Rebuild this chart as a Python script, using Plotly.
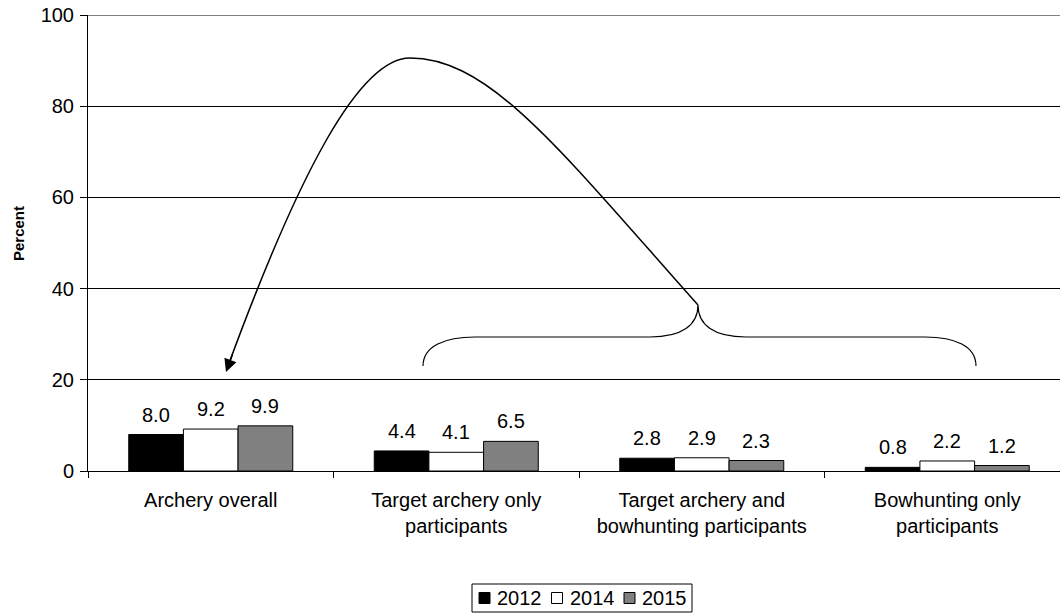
import plotly.graph_objects as go

categories = ["Archery overall",
              "Target archery only<br>participants",
              "Target archery and<br>bowhunting participants",
              "Bowhunting only<br>participants"]
years = ["2012", "2014", "2015"]
values_2012 = [8.0, 4.4, 2.8, 0.8]
values_2014 = [9.2, 4.1, 2.9, 2.2]
values_2015 = [9.9, 6.5, 2.3, 1.2]
y_ticks = [0, 20, 40, 60, 80, 100]

series = [values_2012, values_2014, values_2015]
colors = ["#000000", "#FFFFFF", "#808080"]
FONT = "Liberation Sans, Arial, sans-serif"
BARGAP = 0.332

# plot area in pixels (for decorative drawing)
PL, PR, PT, PB = 88, 1060, 15, 471
def px(x):
    return (x - PL) / (PR - PL)
def py(y):
    return (PB - y) / (PB - PT)

fig = go.Figure()
for name, vals, col in zip(years, series, colors):
    fig.add_trace(go.Bar(
        x=categories, y=vals, name=name, showlegend=False,
        marker=dict(color=col, line=dict(color="#000000", width=1)),
    ))

annotations = []
shapes = []
n = len(series)
bw = (1 - BARGAP) / n
for i, vals in enumerate(series):
    for j, v in enumerate(vals):
        annotations.append(dict(
            x=j + (i - (n - 1) / 2) * bw, y=v, xref="x", yref="y",
            text=f"{v:.1f}", showarrow=False, yanchor="bottom",
            yshift=7, font=dict(size=20, color="#000000", family=FONT)))

# y-axis title
annotations.append(dict(
    x=px(18), y=py(234), xref="paper", yref="paper", text="<b>Percent</b>",
    textangle=-90, showarrow=False, xanchor="center", yanchor="middle",
    font=dict(size=15, family=FONT, color="#000000")))

# legend (boxed, compact)
LEG_L, LEG_R, LEG_T, LEG_B = 472, 692, 584, 612
shapes.append(dict(type="rect", xref="paper", yref="paper",
                   x0=px(LEG_L), x1=px(LEG_R), y0=py(LEG_B), y1=py(LEG_T),
                   line=dict(color="#000000", width=1), fillcolor="#FFFFFF"))
LEG_CY = (LEG_T + LEG_B) / 2
for i, (name, col) in enumerate(zip(years, colors)):
    sx = 479 + i * 72.5
    shapes.append(dict(type="rect", xref="paper", yref="paper",
                       x0=px(sx), x1=px(sx + 11),
                       y0=py(LEG_CY + 5.5), y1=py(LEG_CY - 5.5),
                       line=dict(color="#000000", width=1), fillcolor=col))
    annotations.append(dict(
        x=px(sx + 16), y=py(LEG_CY), xref="paper", yref="paper", text=name,
        showarrow=False, xanchor="left", yanchor="middle",
        font=dict(size=20, family=FONT, color="#000000")))

# arrowhead at end of the curved arrow
annotations.append(dict(
    x=px(226), y=py(372), xref="paper", yref="paper",
    ax=7, ay=-19, axref="pixel", ayref="pixel",
    text="", showarrow=True, arrowhead=2, arrowsize=1.7, arrowwidth=1.5,
    arrowcolor="#000000", standoff=0))

def P(x, y):
    return f"{px(x):.5f},{py(y):.5f}"

bracket = (f"M {P(423,366)} C {P(423,346)} {P(445,337)} {P(475,337)} "
           f"L {P(650,337)} C {P(682,337)} {P(698,325)} {P(698,305)} "
           f"C {P(698,325)} {P(714,337)} {P(746,337)} "
           f"L {P(925,337)} C {P(955,337)} {P(976,346)} {P(976,366)}")
curve = (f"M {P(698,305)} C {P(560,150)} {P(490,58)} {P(410,58)} "
         f"C {P(360,58)} {P(300,170)} {P(228,366)}")

shapes += [
    dict(type="line", xref="paper", yref="y", x0=0, x1=1, y0=100, y1=100,
         line=dict(color="#000000", width=1)),
    dict(type="path", xref="paper", yref="paper", path=bracket,
         line=dict(color="#000000", width=1.2)),
    dict(type="path", xref="paper", yref="paper", path=curve,
         line=dict(color="#000000", width=1.5)),
]

fig.update_layout(
    width=1060, height=616,
    margin=dict(l=PL, r=1060 - PR, t=PT, b=616 - PB, autoexpand=False),
    paper_bgcolor="#FFFFFF", plot_bgcolor="#FFFFFF",
    font=dict(family=FONT, size=20, color="#000000"),
    barmode="group", bargap=BARGAP, bargroupgap=0,
    showlegend=False,
    xaxis=dict(
        type="category", categoryorder="array", categoryarray=categories,
        range=[-0.5, 3.5 - 10 / 245.5], tickson="boundaries",
        showline=True, linecolor="#000000", linewidth=1,
        ticks="outside", ticklen=6, tickcolor="#000000",
        ticklabelstandoff=11,
        showgrid=False, zeroline=False,
        tickfont=dict(size=20, family=FONT),
    ),
    yaxis=dict(
        range=[0, 100], tickvals=y_ticks,
        showline=True, linecolor="#000000", linewidth=1,
        ticks="outside", ticklen=7, tickcolor="#000000",
        ticklabelstandoff=2,
        showgrid=True, gridcolor="#000000", gridwidth=1,
        zeroline=False,
        tickfont=dict(size=20, family=FONT),
    ),
    annotations=annotations,
    shapes=shapes,
)

fig.write_html("out.html")
